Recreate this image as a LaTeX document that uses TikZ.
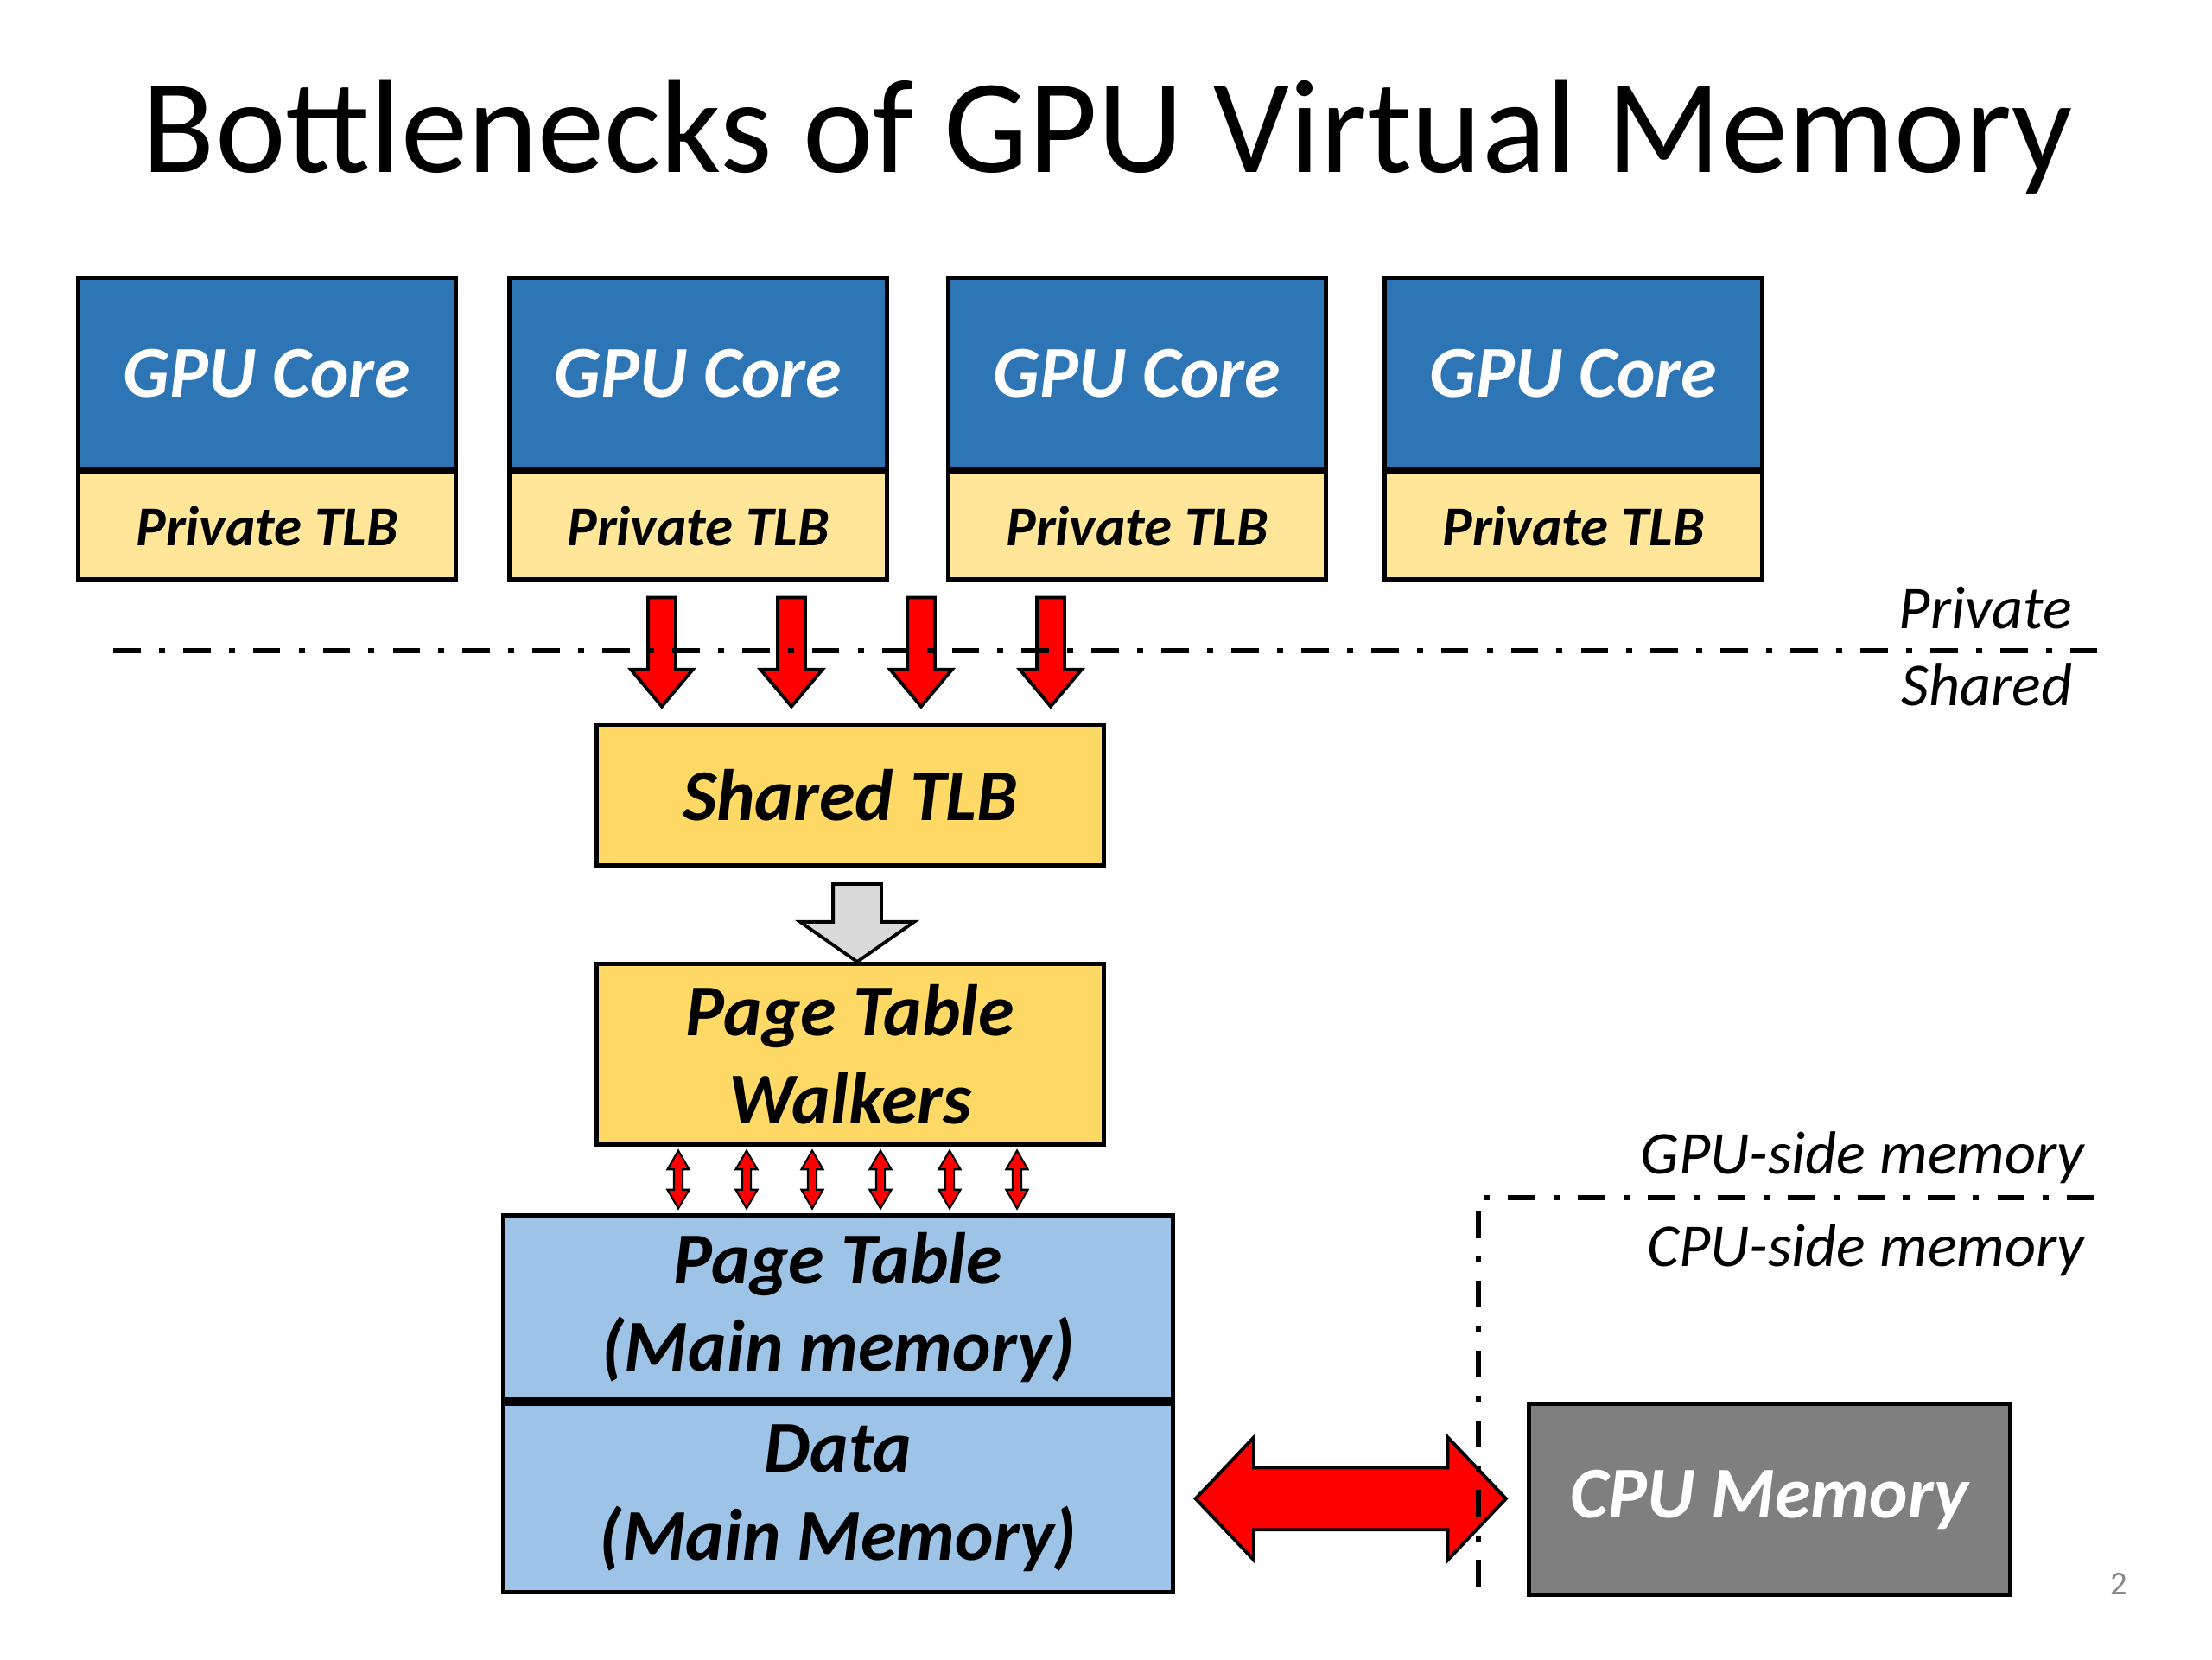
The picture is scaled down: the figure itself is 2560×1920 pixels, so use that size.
\documentclass[tikz,border=0pt]{standalone}
\usepackage{fontspec}
\setmainfont{Carlito}
\usetikzlibrary{positioning,calc,shapes.arrows}

\definecolor{coreblue}{HTML}{2E75B6}
\definecolor{tlbyellow}{HTML}{FFE699}
\definecolor{sharedyellow}{HTML}{FFD966}
\definecolor{memblue}{HTML}{9DC3E6}
\definecolor{cpugray}{HTML}{7F7F7F}
\definecolor{arrowgray}{HTML}{D9D9D9}
\definecolor{pagegray}{HTML}{898989}

\begin{document}
\begin{tikzpicture}[
  x=0.01cm, y=-0.01cm,
  box/.style={draw,line width=1.4pt,inner sep=0pt,align=center,font=\fontsize{24}{29}\selectfont\bfseries\itshape},
  core/.style={box,fill=coreblue,text=white,minimum width=4.37cm,minimum height=2.2cm},
  ptlb/.style={box,fill=tlbyellow,minimum width=4.37cm,minimum height=1.23cm,font=\fontsize{18.5}{22}\selectfont\bfseries\itshape},
  stlb/.style={box,fill=sharedyellow,minimum width=5.86cm},
  mem/.style={box,fill=memblue,minimum width=7.74cm},
  tagline/.style={line width=1.9pt,dash pattern=on 9pt off 6pt on 2pt off 6pt},
  side/.style={font=\fontsize{20}{24}\selectfont\itshape,inner sep=0pt},
  downarr/.style={single arrow,draw,fill=red,line width=1.1pt,inner xsep=0pt,inner ysep=0.14cm,minimum height=1.26cm,minimum width=0.66cm,single arrow head extend=0.2cm,single arrow tip angle=80,rotate=-90},
  grayarr/.style={single arrow,draw,fill=arrowgray,line width=1.1pt,inner xsep=0pt,inner ysep=0.26cm,minimum height=0.9cm,minimum width=1.3cm,single arrow head extend=0.38cm,single arrow tip angle=110,rotate=-90},
  walkarr/.style={double arrow,draw,fill=red,line width=0.6pt,inner xsep=0pt,inner ysep=0.04cm,minimum height=0.67cm,minimum width=0.23cm,double arrow head extend=0.075cm,double arrow tip angle=60,rotate=90},
  bigarr/.style={double arrow,draw,fill=red,line width=1.1pt,inner xsep=0pt,inner ysep=0.34cm,minimum height=3.59cm,minimum width=1.37cm,double arrow head extend=0.35cm,double arrow tip angle=93}
]
\useasboundingbox (0,0) rectangle (2560,1920);

\node[font=\fontsize{44}{50}\selectfont, anchor=base] (title) at (1282,199) {Bottlenecks of GPU Virtual Memory};

% cores and private TLBs
\node[core] (core1) at (309,432) {GPU Core};
\node[core] (core2) at (808,432) {GPU Core};
\node[core] (core3) at (1316,432) {GPU Core};
\node[core] (core4) at (1821,432) {GPU Core};
\node[ptlb, below=0pt of core1] (tlb1) {Private TLB};
\node[ptlb, below=0pt of core2] (tlb2) {Private TLB};
\node[ptlb, below=0pt of core3] (tlb3) {Private TLB};
\node[ptlb, below=0pt of core4] (tlb4) {Private TLB};

\node[stlb, minimum height=1.62cm] (shared) at (984,920) {Shared TLB};
\node[stlb, minimum height=2.09cm] (ptw) at (984,1220) {Page Table\\Walkers};

\node[mem, minimum height=2.13cm] (pt) at (970,1513) {Page Table\\(Main memory)};
\node[mem, minimum height=2.18cm, below=0pt of pt] (data) {Data\\(Main Memory)};

\node[box, fill=cpugray, text=white, minimum width=5.57cm, minimum height=2.2cm] (cpu) at (2048,1735) {CPU Memory};

% requests into the shared TLB
\node[downarr] (req1) at (766,745) {};
\node[downarr] (req2) at (916,745) {};
\node[downarr] (req3) at (1066,745) {};
\node[downarr] (req4) at (1216,745) {};

\node[grayarr, yshift=0.08cm] (miss) at ($(shared.south)!0.5!(ptw.north)$) {};

% walker accesses
\node[walkarr] (walk1) at (785,1365) {};
\node[walkarr] (walk2) at (864,1365) {};
\node[walkarr] (walk3) at (940,1365) {};
\node[walkarr] (walk4) at (1019,1365) {};
\node[walkarr] (walk5) at (1099,1365) {};
\node[walkarr] (walk6) at (1177,1365) {};

\node[bigarr] (xfer) at ($(data.east)!0.5!(cpu.west)$) {};

% dividers
\draw[tagline] (131,753) -- (2428,753);
\draw[tagline] (1711,1837) -- (1711,1386) -- (2433,1386);

\node[side, anchor=base east] (lpriv) at (2399,727) {Private};
\node[side, anchor=base east] (lshared) at (2399,816) {Shared};
\node[side, anchor=base east] (lgpu) at (2413,1358) {GPU-side memory};
\node[side, anchor=base east] (lcpu) at (2413,1465) {CPU-side memory};

\node[font=\fontsize{11}{13}\selectfont, text=pagegray, anchor=base] (pnum) at (2452,1845) {2};
\end{tikzpicture}
\end{document}
